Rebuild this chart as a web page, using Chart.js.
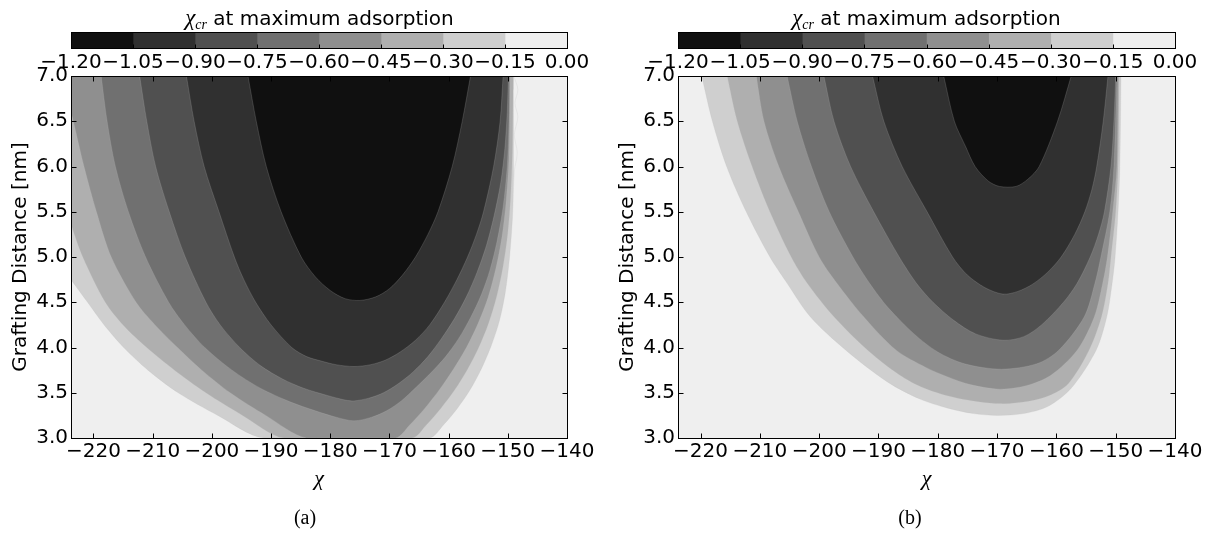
<!DOCTYPE html>
<html>
<head>
<meta charset="utf-8">
<script src="https://cdn.jsdelivr.net/npm/chart.js@4.4.1/dist/chart.umd.min.js"></script>
<style>
  body { margin: 0; background: #fff; width: 1215px; height: 535px; position: relative; overflow: hidden; }
  canvas { position: absolute; top: 0; }
  .cbar { z-index: 2; }
  .cbtitle { position: absolute; top: 5px; line-height: 26px; text-align: center; white-space: nowrap;
             font: 20px "DejaVu Sans", sans-serif; color: #000; z-index: 3; }
  .cbtitle i { font-family: "Liberation Serif", serif; font-size: 23px; }
  .cbtitle sub { font-size: 14px; line-height: 0; vertical-align: -0.25em; }
  .cap { position: absolute; top: 506px; width: 100px; text-align: center; line-height: 26px;
         font: 20px "Liberation Serif", serif; color: #000; }
</style>
</head>
<body>
<canvas id="plotA" width="607" height="535" style="left:0px"></canvas>
<canvas id="cbA" class="cbar" width="607" height="80" style="left:0px"></canvas>
<div class="cbtitle" style="left:71px;width:497px"><i>χ<sub>cr</sub></i> at maximum adsorption</div>
<div class="cap" style="left:255px">(a)</div>

<canvas id="plotB" width="608" height="535" style="left:607px"></canvas>
<canvas id="cbB" class="cbar" width="608" height="80" style="left:607px"></canvas>
<div class="cbtitle" style="left:678px;width:497px"><i>χ<sub>cr</sub></i> at maximum adsorption</div>
<div class="cap" style="left:860px">(b)</div>

<script>
// contour levels of chi_cr and the gray of each band between them
var levels = [-1.20, -1.05, -0.90, -0.75, -0.60, -0.45, -0.30, -0.15, 0.00];
var grays = ['#101010', '#303030', '#505050', '#707070', '#8f8f8f', '#afafaf', '#cfcfcf', '#efefef'];

var chiTicks = [-220, -210, -200, -190, -180, -170, -160, -150, -140];
var distTicks = [3.0, 3.5, 4.0, 4.5, 5.0, 5.5, 6.0, 6.5, 7.0];
var chiMin = -223.8, chiMax = -140;
var distMin = 3.0, distMax = 7.0;

// panel (a): outline of the region where chi_cr < level, as [chi, distance]
var a105 = [[-193.9, 7.0], [-192.5, 6.5], [-190.8, 6.0], [-188.3, 5.5], [-184.9, 5.0], [-182.5, 4.78], [-180.0, 4.63],
  [-177.5, 4.54], [-175.0, 4.52], [-172.3, 4.56], [-170.0, 4.65], [-167.8, 4.8], [-165.6, 5.0], [-163.5, 5.25],
  [-161.8, 5.5], [-159.4, 6.0], [-157.7, 6.5], [-156.3, 7.0]];
var a090 = [[-204.3, 7.0], [-203.0, 6.5], [-201.3, 6.0], [-198.8, 5.5], [-196.2, 5.0], [-194.6, 4.75], [-192.6, 4.5],
  [-190.0, 4.25], [-186.5, 4.0], [-184.0, 3.9], [-181.5, 3.85], [-179.0, 3.81], [-176.0, 3.79], [-173.2, 3.81],
  [-170.7, 3.86], [-168.2, 3.95], [-165.6, 4.08], [-163.2, 4.25], [-160.7, 4.5], [-158.6, 4.75], [-156.8, 5.0],
  [-155.3, 5.25], [-154.1, 5.5], [-152.4, 6.0], [-151.3, 6.5], [-150.8, 7.0]];
var a075 = [[-212.2, 7.0], [-211.0, 6.5], [-209.5, 6.0], [-207.2, 5.5], [-204.5, 5.0], [-201.0, 4.5], [-198.6, 4.25],
  [-195.3, 4.0], [-191.8, 3.8], [-188.0, 3.65], [-184.5, 3.55], [-180.5, 3.47], [-177.5, 3.42], [-176.0, 3.41],
  [-173.5, 3.44], [-171.0, 3.5], [-168.5, 3.6], [-166.0, 3.73], [-163.5, 3.9], [-161.2, 4.1], [-159.0, 4.32],
  [-157.0, 4.56], [-155.2, 4.83], [-153.6, 5.13], [-152.3, 5.46], [-151.2, 5.82], [-150.5, 6.2], [-150.1, 6.6],
  [-149.9, 7.0]];
var a060 = [[-218.7, 7.0], [-217.7, 6.5], [-216.3, 6.0], [-214.1, 5.5], [-211.2, 5.0], [-207.3, 4.5], [-204.6, 4.25],
  [-201.2, 4.0], [-196.6, 3.75], [-191.8, 3.55], [-186.8, 3.4], [-182.5, 3.3], [-179.0, 3.23], [-176.0, 3.19],
  [-173.0, 3.23], [-170.5, 3.3], [-168.0, 3.41], [-165.5, 3.56], [-163.0, 3.72], [-160.5, 3.9], [-158.3, 4.1],
  [-156.3, 4.33], [-154.5, 4.58], [-153.0, 4.86], [-151.8, 5.18], [-150.8, 5.55], [-150.1, 6.0], [-149.8, 6.5],
  [-149.7, 7.0]];
var a045 = [[-223.8, 6.6], [-223.4, 6.5], [-221.6, 6.0], [-219.5, 5.5], [-217.0, 5.0], [-212.8, 4.5], [-209.6, 4.25],
  [-205.8, 4.0], [-201.7, 3.75], [-196.9, 3.5], [-190.9, 3.25], [-184.0, 3.0], [-169.0, 3.0], [-166.5, 3.15],
  [-164.0, 3.33], [-161.5, 3.54], [-159.2, 3.76], [-157.0, 4.0], [-155.0, 4.27], [-153.3, 4.56], [-152.0, 4.88],
  [-151.0, 5.22], [-150.3, 5.6], [-149.8, 6.1], [-149.6, 7.0]];
var a030 = [[-223.8, 5.36], [-221.8, 5.0], [-218.0, 4.5], [-215.0, 4.25], [-211.0, 4.0], [-206.3, 3.75], [-201.0, 3.5],
  [-194.8, 3.25], [-187.8, 3.0], [-166.2, 3.0], [-163.7, 3.15], [-161.3, 3.33], [-159.0, 3.53], [-156.9, 3.75],
  [-155.0, 3.99], [-153.3, 4.26], [-151.9, 4.56], [-150.8, 4.9], [-150.0, 5.27], [-149.5, 5.7], [-149.2, 6.25],
  [-149.1, 7.0]];
var a015 = [[-223.8, 4.75], [-221.0, 4.5], [-218.2, 4.25], [-214.9, 4.0], [-210.8, 3.75], [-205.7, 3.5], [-199.0, 3.25],
  [-191.2, 3.0], [-163.3, 3.0], [-160.8, 3.15], [-158.5, 3.33], [-156.4, 3.53], [-154.5, 3.76], [-152.8, 4.02],
  [-151.4, 4.3], [-150.4, 4.62], [-149.7, 5.0], [-149.2, 5.45], [-148.9, 5.95], [-148.4, 6.15], [-148.9, 6.35],
  [-148.3, 6.55], [-148.8, 6.7], [-148.3, 6.85], [-149.0, 7.0]];

// panel (b)
var b105 = [[-179.0, 7.0], [-177.2, 6.5], [-175.3, 6.22], [-173.7, 6.0], [-171.5, 5.84], [-169.6, 5.78], [-166.8, 5.78],
  [-164.8, 5.86], [-162.9, 6.0], [-159.8, 6.5], [-157.5, 7.0]];
var b090 = [[-191.0, 7.0], [-189.1, 6.5], [-186.0, 6.0], [-181.8, 5.5], [-177.5, 5.0], [-175.0, 4.8], [-172.0, 4.66],
  [-169.0, 4.59], [-166.5, 4.62], [-164.0, 4.7], [-161.5, 4.83], [-159.2, 5.0], [-156.9, 5.25], [-155.2, 5.5],
  [-154.0, 5.75], [-153.2, 6.0], [-152.1, 6.5], [-151.3, 7.0]];
var b075 = [[-199.2, 7.0], [-197.5, 6.5], [-194.7, 6.0], [-190.8, 5.5], [-186.5, 5.0], [-183.6, 4.71], [-180.8, 4.5],
  [-177.3, 4.3], [-173.6, 4.15], [-169.0, 4.08], [-165.5, 4.12], [-162.5, 4.25], [-158.8, 4.5], [-156.5, 4.71],
  [-154.3, 5.0], [-152.9, 5.25], [-151.9, 5.5], [-150.8, 6.0], [-150.3, 6.5], [-150.0, 7.0]];
var b060 = [[-205.4, 7.0], [-203.7, 6.5], [-201.3, 6.0], [-198.3, 5.5], [-194.3, 5.0], [-191.5, 4.71], [-188.5, 4.45],
  [-184.0, 4.15], [-180.0, 3.95], [-175.5, 3.82], [-169.3, 3.76], [-163.3, 3.82], [-159.6, 3.97], [-155.3, 4.34],
  [-153.5, 4.71], [-152.5, 5.0], [-151.0, 5.5], [-150.3, 6.0], [-149.8, 7.0]];
var b045 = [[-210.6, 7.0], [-209.3, 6.5], [-206.8, 6.0], [-203.5, 5.5], [-200.0, 5.0], [-197.0, 4.71], [-192.5, 4.34],
  [-187.0, 3.97], [-182.0, 3.78], [-178.5, 3.68], [-174.5, 3.59], [-169.5, 3.54], [-165.0, 3.58], [-161.0, 3.69],
  [-156.5, 3.97], [-153.6, 4.34], [-152.2, 4.71], [-151.4, 5.0], [-150.5, 5.5], [-149.8, 6.0], [-149.6, 7.0]];
var b030 = [[-215.5, 7.0], [-213.8, 6.5], [-211.3, 6.0], [-208.3, 5.5], [-204.7, 5.0], [-202.0, 4.71], [-197.5, 4.34],
  [-191.8, 3.97], [-186.5, 3.7], [-182.2, 3.55], [-176.6, 3.44], [-169.5, 3.38], [-164.5, 3.41], [-161.2, 3.47],
  [-158.0, 3.6], [-154.5, 3.97], [-152.4, 4.34], [-151.3, 4.71], [-150.8, 5.0], [-150.0, 5.5], [-149.6, 6.0], [-149.4, 7.0]];
var b015 = [[-219.8, 7.0], [-218.0, 6.5], [-215.6, 6.0], [-212.3, 5.5], [-208.3, 5.0], [-205.4, 4.71], [-201.5, 4.34],
  [-195.5, 3.97], [-188.5, 3.62], [-183.0, 3.43], [-178.3, 3.33], [-174.0, 3.27], [-169.9, 3.25], [-165.5, 3.27],
  [-161.4, 3.35], [-157.5, 3.55], [-153.3, 3.97], [-151.5, 4.34], [-150.6, 4.71], [-150.1, 5.0], [-149.6, 5.5],
  [-149.3, 6.0], [-149.1, 7.0]];

var panelA = [a105, a090, a075, a060, a045, a030, a015];
var panelB = [b105, b090, b075, b060, b045, b030, b015];

Chart.defaults.font.family = '"DejaVu Sans", sans-serif';
Chart.defaults.font.size = 20;
Chart.defaults.color = '#000';

function fmt(v, d) {
  var s = Math.abs(v).toFixed(d);
  return (v < 0 && Number(s) !== 0 ? '\u2212' : '') + s;
}

function fixTicks(list) {
  return function (scale) {
    scale.ticks = list.map(function (v) { return { value: v }; });
  };
}

// plot background, frame and inward tick marks like matplotlib
var framePlugin = {
  id: 'frame',
  beforeDatasetsDraw: function (chart) {
    var a = chart.chartArea, ctx = chart.ctx;
    ctx.save();
    ctx.fillStyle = grays[7];
    ctx.fillRect(a.left, a.top, a.right - a.left, a.bottom - a.top);
    ctx.restore();
  },
  afterDatasetsDraw: function (chart) {
    var a = chart.chartArea, ctx = chart.ctx;
    var xs = chart.scales.x, ys = chart.scales.y;
    var l = Math.round(a.left) + 0.5, r = Math.round(a.right) + 0.5;
    var t = Math.round(a.top) + 0.5, b = Math.round(a.bottom) + 0.5;
    ctx.save();
    ctx.strokeStyle = '#000';
    ctx.lineWidth = 1;
    ctx.beginPath();
    xs.ticks.forEach(function (tk) {
      var px = Math.round(xs.getPixelForValue(tk.value)) + 0.5;
      ctx.moveTo(px, b); ctx.lineTo(px, b - 5);
      ctx.moveTo(px, t); ctx.lineTo(px, t + 5);
    });
    ys.ticks.forEach(function (tk) {
      var py = Math.round(ys.getPixelForValue(tk.value)) + 0.5;
      ctx.moveTo(l, py); ctx.lineTo(l + 5, py);
      ctx.moveTo(r, py); ctx.lineTo(r - 5, py);
    });
    ctx.stroke();
    ctx.strokeRect(l, t, r - l, b - t);
    ctx.restore();
  }
};

function makeContour(id, curves, padRight) {
  var datasets = curves.map(function (c, i) {
    return {
      data: c.map(function (p) { return { x: p[0], y: p[1] }; }),
      showLine: true,
      fill: 'end',
      backgroundColor: grays[i],
      borderColor: 'rgba(190,190,190,0.35)',
      borderWidth: 0.6,
      pointRadius: 0,
      tension: 0.3
    };
  });
  new Chart(document.getElementById(id), {
    type: 'scatter',
    data: { datasets: datasets },
    options: {
      responsive: false,
      animation: false,
      events: [],
      layout: { padding: { top: 76, right: padRight, left: 0, bottom: 0 } },
      plugins: { legend: { display: false }, tooltip: { enabled: false } },
      scales: {
        x: {
          type: 'linear', min: chiMin, max: chiMax,
          afterBuildTicks: fixTicks(chiTicks),
          afterFit: function (s) { s.height = 97; },
          grid: { display: false, drawTicks: false },
          border: { display: false },
          ticks: { autoSkip: false, maxRotation: 0, minRotation: 0, padding: 2,
                   callback: function (v) { return fmt(v, 0); } },
          title: { display: true, text: 'χ', padding: { top: 0, bottom: 43 },
                   font: { family: '"Liberation Serif", serif', style: 'italic', size: 22 } }
        },
        y: {
          type: 'linear', min: distMin, max: distMax,
          afterBuildTicks: fixTicks(distTicks),
          afterFit: function (s) { s.width = 71; },
          grid: { display: false, drawTicks: false },
          border: { display: false },
          ticks: { autoSkip: false, padding: 3, callback: function (v) { return fmt(v, 1); } },
          title: { display: true, text: 'Grafting Distance [nm]', padding: { top: 9, bottom: 0 } }
        }
      }
    },
    plugins: [framePlugin]
  });
}

var cbFrame = {
  id: 'cbFrame',
  afterDatasetsDraw: function (chart) {
    var a = chart.chartArea, ctx = chart.ctx, xs = chart.scales.x;
    var l = Math.round(a.left) + 0.5, r = Math.round(a.right) + 0.5;
    var t = Math.round(a.top) + 0.5, b = Math.round(a.bottom) + 0.5;
    ctx.save();
    ctx.strokeStyle = '#000';
    ctx.lineWidth = 1;
    ctx.beginPath();
    xs.ticks.forEach(function (tk) {
      var px = Math.round(xs.getPixelForValue(tk.value)) + 0.5;
      ctx.moveTo(px, b); ctx.lineTo(px, b - 4);
    });
    ctx.stroke();
    ctx.strokeRect(l, t, r - l, b - t);
    ctx.restore();
  }
};

function makeColorbar(id, padRight) {
  var datasets = grays.map(function (g, i) {
    return {
      data: [[levels[i], levels[i + 1]]],
      backgroundColor: g,
      borderWidth: 0,
      barPercentage: 1,
      categoryPercentage: 1,
      grouped: false
    };
  });
  new Chart(document.getElementById(id), {
    type: 'bar',
    data: { labels: [''], datasets: datasets },
    options: {
      indexAxis: 'y',
      responsive: false,
      animation: false,
      events: [],
      layout: { padding: { top: 32, right: padRight, left: 71, bottom: 0 } },
      plugins: { legend: { display: false }, tooltip: { enabled: false } },
      scales: {
        x: {
          type: 'linear', min: levels[0], max: levels[levels.length - 1],
          afterBuildTicks: fixTicks(levels),
          afterFit: function (s) { s.height = 32; },
          grid: { display: false, drawTicks: false },
          border: { display: false },
          ticks: { autoSkip: false, maxRotation: 0, minRotation: 0, padding: 3,
                   callback: function (v) { return fmt(v, 2); } }
        },
        y: { display: false }
      }
    },
    plugins: [cbFrame]
  });
}

makeContour('plotA', panelA, 40);
makeColorbar('cbA', 40);
makeContour('plotB', panelB, 40);
makeColorbar('cbB', 40);
</script>
</body>
</html>
